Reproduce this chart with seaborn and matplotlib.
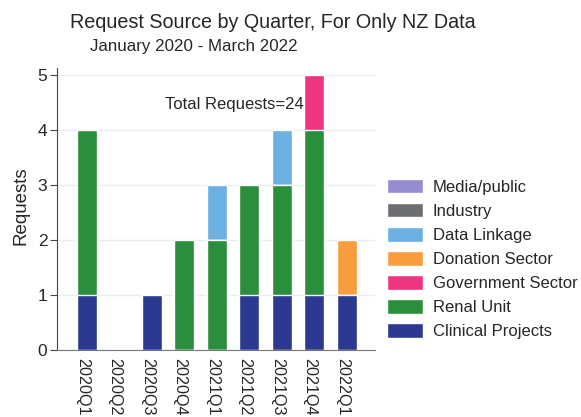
import numpy as np
import pandas as pd
import matplotlib
matplotlib.use("Agg")
import matplotlib.pyplot as plt
import matplotlib.transforms as mtransforms
from matplotlib.patches import Patch
import seaborn as sns

quarters = ["2020Q1", "2020Q2", "2020Q3", "2020Q4", "2021Q1",
            "2021Q2", "2021Q3", "2021Q4", "2022Q1"]

# stacking order, bottom first
clinical_projects = [1, 0, 1, 0, 0, 1, 1, 1, 1]
renal_unit        = [3, 0, 0, 2, 2, 2, 2, 3, 0]
government_sector = [0, 0, 0, 0, 0, 0, 0, 1, 0]
donation_sector   = [0, 0, 0, 0, 0, 0, 0, 0, 1]
data_linkage      = [0, 0, 0, 0, 1, 0, 1, 0, 0]
industry          = [0, 0, 0, 0, 0, 0, 0, 0, 0]
media_public      = [0, 0, 0, 0, 0, 0, 0, 0, 0]

series = {
    "Clinical Projects": clinical_projects,
    "Renal Unit": renal_unit,
    "Government Sector": government_sector,
    "Donation Sector": donation_sector,
    "Data Linkage": data_linkage,
    "Industry": industry,
    "Media/public": media_public,
}
colors = {
    "Clinical Projects": "#2b3990",
    "Renal Unit": "#2a8f3c",
    "Government Sector": "#ee3580",
    "Donation Sector": "#f99c3c",
    "Data Linkage": "#6db0e2",
    "Industry": "#6d6e71",
    "Media/public": "#968cd4",
}

df = pd.DataFrame(series, index=quarters)
cum = df.cumsum(axis=1)
total = int(df.values.sum())

sns.set_style("white")
plt.rcParams["font.family"] = ["Liberation Sans", "DejaVu Sans"]

fig = plt.figure(figsize=(5.81, 4.17), dpi=100)
ax = fig.add_axes([57 / 581, 67 / 417, 318 / 581, 282 / 417])

# draw cumulative totals from top layer down so lower layers cover upper ones
for name in reversed(list(series.keys())):
    plot_df = pd.DataFrame({"quarter": quarters, "value": cum[name].values})
    sns.barplot(data=plot_df, x="quarter", y="value", color=colors[name],
                width=0.615, saturation=1, ax=ax, order=quarters)

ax.set_xlim(-0.91, 8.87)
ax.set_ylim(0, 5.13)
ax.set_yticks([0, 1, 2, 3, 4, 5])
ax.yaxis.grid(True, color="#e6eef0", linewidth=1)
ax.set_axisbelow(True)
for s in ["top", "right"]:
    ax.spines[s].set_visible(False)
ax.spines["left"].set_color("#444444")
ax.spines["bottom"].set_color("#777777")
ax.tick_params(axis="y", left=True, length=5, color="#444444", labelsize=12.5, pad=2)
ax.tick_params(axis="x", bottom=False, labelsize=11.6, pad=2)
shift = mtransforms.ScaledTranslation(-4 / 100, 0, fig.dpi_scale_trans)
for lbl in ax.get_xticklabels():
    lbl.set_rotation(270)
    lbl.set_transform(lbl.get_transform() + shift)
ax.set_xlabel("")
ax.set_ylabel("Requests", fontsize=13.5)
ax.yaxis.set_label_coords(-0.085, 0.51)

ax.text(4.53, 4.47, f"Total Requests={total}", fontsize=12, ha="center", va="center")

fig.text(0.469, 1 - 22 / 417, "Request Source by Quarter, For Only NZ Data",
         fontsize=14.2, ha="center", va="center")
fig.text(0.333, 1 - 46 / 417, "January 2020 - March 2022",
         fontsize=12.2, ha="center", va="center")

handles = [Patch(facecolor=colors[n], label=n) for n in reversed(list(series.keys()))]
fig.legend(handles=handles, loc="upper left", bbox_to_anchor=(387 / 581, 1 - 179 / 417),
           frameon=False, fontsize=12, handlelength=2.15, handleheight=0.95,
           handletextpad=0.6, labelspacing=0.49, borderpad=0, borderaxespad=0)

fig.savefig("out.png", dpi=100)
